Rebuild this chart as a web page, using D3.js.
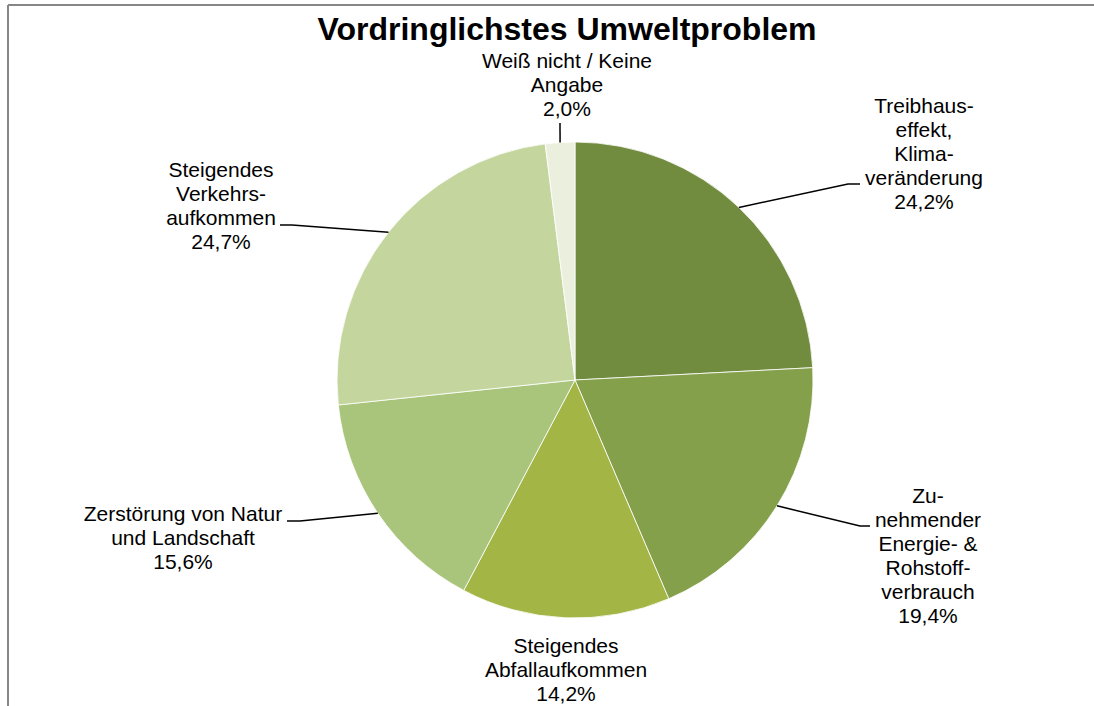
<!DOCTYPE html>
<html>
<head>
<meta charset="utf-8">
<script src="https://cdn.jsdelivr.net/npm/d3@7"></script>
<style>
  html, body { margin: 0; padding: 0; background: #fff; }
  svg { display: block; font-family: "Liberation Sans", Arial, sans-serif; }
</style>
</head>
<body>
<div id="chart"></div>
<script>
const title = "Vordringlichstes Umweltproblem";
const categoryLines = [
    ["Treibhaus-", "effekt,", "Klima-", "veränderung"],
    ["Zu-", "nehmender", "Energie- &", "Rohstoff-", "verbrauch"],
    ["Steigendes", "Abfallaufkommen"],
    ["Zerstörung von Natur", "und Landschaft"],
    ["Steigendes", "Verkehrs-", "aufkommen"],
    ["Weiß nicht / Keine", "Angabe"]
];
const values = [24.2, 19.4, 14.2, 15.6, 24.7, 2.0];
const colors = ["#718b3f", "#84a04b", "#a3b545", "#a9c47b", "#c4d69e", "#ebf0de"];

// label placement: text centre x, first baseline y, leader elbow/end (null = straight)
const labelLayout = [
    {x: 924, y: 113, elbow: [848, 184], end: [860, 184]},
    {x: 928, y: 503, elbow: [860, 526], end: [870, 526]},
    {x: 566, y: 653, elbow: null, end: null},
    {x: 183, y: 521, elbow: [300, 521], end: [287, 521]},
    {x: 221, y: 177, elbow: [292, 225], end: [280, 225]},
    {x: 567, y: 68, elbow: null, end: [560, 123]}
];

const width = 1094, height = 706;
const cx = 575, cy = 380, radius = 238;
const lineH = 24;

const svg = d3.select('#chart').append('svg')
    .attr('width', width)
    .attr('height', height);

// frame (only top and left edges are in view)
svg.append('line')
    .attr('x1', 8).attr('y1', 5).attr('x2', width).attr('y2', 5)
    .attr('stroke', '#868686').attr('stroke-width', 2);
svg.append('line')
    .attr('x1', 8).attr('y1', 5).attr('x2', 8).attr('y2', height)
    .attr('stroke', '#868686').attr('stroke-width', 2);

svg.append('text')
    .attr('x', 567)
    .attr('y', 40)
    .attr('text-anchor', 'middle')
    .style('font-size', '32px')
    .style('font-weight', 'bold')
    .style('fill', '#000')
    .text(title);

const pie = d3.pie().sort(null).value(d => d);
const arcs = pie(values);

const arc = d3.arc().innerRadius(0).outerRadius(radius);
const edgeArc = d3.arc().innerRadius(radius).outerRadius(radius);

const g = svg.append('g')
    .attr('transform', `translate(${cx},${cy})`);

g.selectAll('.slice')
    .data(arcs)
    .enter().append('path')
    .attr('class', 'slice')
    .attr('d', arc)
    .attr('fill', (d, i) => colors[i])
    .attr('stroke', '#fff')
    .attr('stroke-width', 0.8);

const fmt = v => d3.format('.1f')(v).replace('.', ',') + '%';

// leader lines from the slice edge at its mid angle
arcs.forEach((d, i) => {
    const lay = labelLayout[i];
    if (!lay.end) return;
    const c = edgeArc.centroid(d);
    const pts = [[cx + c[0], cy + c[1]]];
    if (lay.elbow) pts.push(lay.elbow);
    pts.push(lay.end);
    svg.append('path')
        .attr('d', d3.line()(pts))
        .attr('fill', 'none')
        .attr('stroke', '#000')
        .attr('stroke-width', 1.5);
});

// labels
arcs.forEach((d, i) => {
    const lay = labelLayout[i];
    const lines = categoryLines[i].concat([fmt(values[i])]);
    const t = svg.append('text')
        .attr('text-anchor', 'middle')
        .style('font-size', '21px')
        .style('fill', '#000');
    lines.forEach((s, k) => {
        t.append('tspan')
            .attr('x', lay.x)
            .attr('y', lay.y + k * lineH)
            .text(s);
    });
});
</script>
</body>
</html>
